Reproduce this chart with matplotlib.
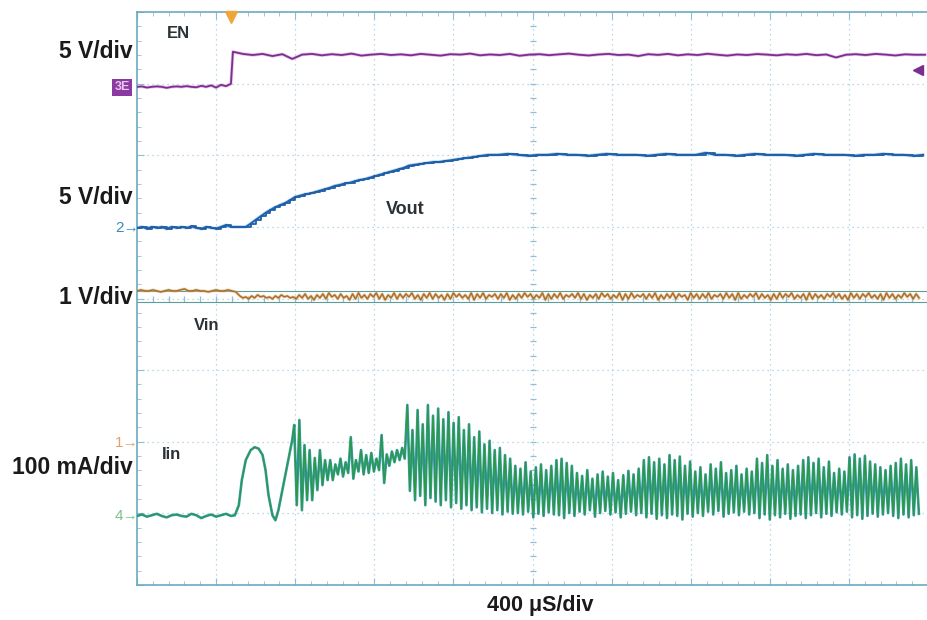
import numpy as np
import matplotlib
matplotlib.use("Agg")
import matplotlib.pyplot as plt

plt.rcParams['font.family'] = ['Liberation Sans', 'DejaVu Sans']

# ---- scope settings ----
t_left, t_right = -475, 3480       # us, trigger at t = 0
us_div = 400                       # 400 us/div
n_xdiv, n_ydiv = 10, 8

# vertical position of each channel (div from bottom) and units per div
en_pos, en_scale = 6.955, 5.0        # V/div
vout_pos, vout_scale = 4.986, 5.0    # V/div
vin_pos, vin_scale = 4.092, 1000.0   # mV/div
iin_pos, iin_scale = 0.964, 100.0    # mA/div

# ---- EN (V) ----
en_low = [0.0, 0.03, -0.05, 0.0, 0.03, 0.0, -0.07, 0.0, 0.03, 0.0,
          0.05, 0.0, -0.03, 0.07, 0.0, 0.1, -0.05, 0.14, 0.05, 0.21]   # every 25 us from t_left
en_high = [2.45, 2.30, 2.22, 2.30, 2.15, 2.28, 1.95, 2.25, 2.30, 2.20,
           2.28, 2.22, 2.32, 2.18, 2.25, 2.30, 2.22, 2.27, 2.20, 2.30,
           2.24, 2.18, 2.28, 2.25, 2.32, 2.20, 2.26, 2.22, 2.30, 2.17,
           2.25, 2.28, 2.21, 2.27, 2.32, 2.24, 2.19, 2.26, 2.30, 2.22,
           2.25, 2.15, 2.28, 2.23, 2.30, 2.20, 2.27, 2.22, 2.31, 2.24,
           2.18, 2.26, 2.22, 2.29, 2.25, 2.20, 2.27, 2.23, 2.30, 2.21,
           2.26, 2.05, 2.24, 2.28, 2.22, 2.30, 2.25, 2.19, 2.27, 2.24, 2.24]  # every 50 us from t=10

# ---- Vout (V) ----
vout_pre = [0.0, 0.07, -0.05, 0.07, 0.0, 0.07, -0.07, 0.07, 0.0, 0.07, 0.0,
            0.1, 0.0, -0.07, 0.07, 0.0, -0.05, 0.07, 0.2, 0.07, 0.07, 0.07]  # every 25 us from t_left
vout_ramp = [0.07, 0.3, 0.56, 0.8, 1.05, 1.26, 1.45, 1.6, 1.74, 1.95,
             2.16, 2.25, 2.35, 2.4, 2.5, 2.6, 2.7, 2.8, 2.93, 3.0,
             3.1, 3.15, 3.25, 3.35, 3.4, 3.5, 3.6, 3.7, 3.8, 3.9,
             4.0, 4.1, 4.2, 4.35, 4.4, 4.45, 4.5, 4.55, 4.6, 4.6,
             4.65, 4.7, 4.75, 4.8, 4.85, 4.9, 4.95, 5.0, 5.05]          # every 25 us from t=75
vout_flat = [5.1, 5.1, 5.17, 5.1, 5.03, 5.1, 5.1, 5.17, 5.1, 5.1,
             5.03, 5.1, 5.17, 5.1, 5.1, 5.1, 5.03, 5.1, 5.17, 5.1,
             5.1, 5.1, 5.24, 5.1, 5.1, 5.03, 5.1, 5.17, 5.1, 5.1,
             5.1, 5.03, 5.1, 5.17, 5.1, 5.1, 5.1, 5.03, 5.1, 5.1,
             5.17, 5.1, 5.1, 5.03, 5.1]                                  # every 50 us from t=1300

# ---- Vin (mV, relative to its marker) ----
vin_pre = [14, 28, 14, 14, 28, 14, 0, 14, 28, 14, 14, 28, 42, 14, 14, 28,
           14, 14, 0, 14, 28, 14, 14, 28, 14, 0]                         # every 20 us from t_left
vin_hi = [-56, -70, -56, -42, -56, -70, -56, -42, -56, -70,
          -42, -28, -56, -42, -28, -14, -42, -28, -56, -28,
          -14, -42, -28, -14, -28, -42, -14, -28, -28, -14,
          -42, -28, -14, -28, -42, -28, -14, -28, -42, -14,
          -28, -14, -42, -28, -28, -14, -42, -28, -14, -28,
          -42, -14, -28, -28, -14, -42, -28, -14, -28, -42,
          -28, -14, -28, -42, -14, -28, -14, -42, -28, -28,
          -14, -42, -28, -14, -28, -42, -14, -28, -28, -14,
          -42, -28, -14, -28, -14, -42, -28, -14, -28, -42,
          -28, -14, -28, -14, -42, -28, -14, -28, -42, -28,
          -14, -28, -42, -14, -28, -28, -14, -42, -28, -14,
          -28, -42, -14, -28, -28]
vin_lo = [-84, -98, -84, -70, -84, -98, -84, -70, -84, -98,
          -84, -98, -112, -84, -98, -70, -98, -84, -112, -98,
          -84, -98, -70, -98, -112, -84, -98, -84, -70, -98,
          -112, -84, -98, -84, -112, -98, -70, -84, -98, -112,
          -84, -98, -70, -98, -84, -112, -98, -84, -70, -98,
          -84, -112, -98, -84, -98, -70, -84, -98, -112, -84,
          -98, -70, -98, -84, -112, -98, -84, -70, -98, -84,
          -112, -98, -84, -98, -70, -112, -84, -98, -84, -98,
          -70, -98, -84, -112, -98, -84, -70, -98, -84, -112,
          -98, -84, -70, -98, -84, -112, -98, -84, -98, -70,
          -84, -98, -112, -84, -98, -70, -84, -98, -112, -84,
          -98, -84, -70, -98, -84]                                       # pairs every 30 us from t=45
vin_ref = [14, -140]

# ---- Iin (mA) ----
iin_pre_t = [-475, -450, -425, -400, -375, -350, -325, -300, -275, -250, -225,
             -200, -175, -150, -125, -100, -75, -50, -25, 0, 20,
             40, 55, 75, 100, 120, 140, 160, 175, 190, 210, 225, 240, 260, 280, 295, 310]
iin_pre = [0, 2, -1, 1, 3, 0, -2, 1, 2, 0, -1, 3, 1, -3, 0, 2, -1, 1, 3, 0, 1,
           15, 50, 78, 92, 96, 94, 85, 64, 29, 1, -6, 8, 36, 64, 85, 106]
# ringing peaks / troughs, one pair every 26 us from t=320
iin_hi = [127, 134, 99, 92, 81, 92, 78,
          78, 72, 80, 75, 110, 78, 92, 85, 88, 80, 113, 86, 90, 92, 95,
          155, 120, 148, 128, 155, 140, 150, 135, 145, 130, 138, 120, 128, 110, 118, 100, 105, 92, 95, 85, 80,
          70, 66, 75, 62, 68, 72, 64, 70,
          78, 80, 74, 70,
          60, 56, 64, 52, 58, 62, 55, 60, 50, 57, 63, 58, 66,
          78, 82, 75, 80, 72, 85, 78, 83, 70, 76,
          62, 68, 58, 72, 66, 75, 60, 64, 70, 58, 66, 62,
          80, 74, 85, 70, 78, 66, 72, 64,
          70, 78, 82, 74, 80, 68, 76, 60, 66, 62,
          82, 86, 80, 84, 76, 72, 68, 64, 70, 74, 80, 72, 78, 68]
iin_lo = [15, 8, 22, 22, 36, 43, 50,
          50, 58, 55, 60, 52, 62, 58, 60, 62, 64, 46, 70, 75, 78, 80,
          35, 22, 28, 15, 25, 20, 15, 22, 12, 18, 10, 15, 8, 12, 5, 10, 4, 8, 2, 6, 3,
          4, 2, 6, -2, 3, 0, 5, 2,
          1, -3, 4, 0,
          6, 2, 8, -1, 4, 7, 2, 5, -2, 3, 6, 1, 4,
          -2, 3, -4, 1, -3, 2, 0, -5, 3, -1,
          4, 0, 6, 2, 7, -1, 3, 5, 1, 6, 2, 4,
          -3, 2, -5, 1, -2, 3, -4, 0,
          2, -3, 1, 4, -2, 3, 0, 5, 2, 6,
          -2, 1, -4, 0, 3, -1, 2, 4, 0, -3, 2, -2, 1, 3]

# ---- build time bases ----
en_t = np.concatenate([t_left + 25 * np.arange(len(en_low)), 10 + 50 * np.arange(len(en_high))])
en_v = np.array(en_low + en_high)

vout_t = np.concatenate([t_left + 25 * np.arange(len(vout_pre)),
                         75 + 25 * np.arange(len(vout_ramp)),
                         1300 + 50 * np.arange(len(vout_flat))])
vout_v = np.array(vout_pre + vout_ramp + vout_flat)

vin_pair_t = np.column_stack([45 + 30 * np.arange(len(vin_hi)), 60 + 30 * np.arange(len(vin_lo))]).ravel()
vin_t = np.concatenate([t_left + 20 * np.arange(len(vin_pre)), vin_pair_t])
vin_v = np.concatenate([vin_pre, np.column_stack([vin_hi, vin_lo]).ravel()])

iin_pair_t = np.column_stack([320 + 26 * np.arange(len(iin_hi)), 333 + 26 * np.arange(len(iin_lo))]).ravel()
iin_t = np.concatenate([iin_pre_t, iin_pair_t])
iin_v = np.concatenate([iin_pre, np.column_stack([iin_hi, iin_lo]).ravel()])

# ---- figure ----
fig = plt.figure(figsize=(9.28, 6.2), dpi=100)
ax = fig.add_axes([137 / 928, 1 - 585 / 620, 1 - 137 / 928, 573 / 620])
ax.set_xlim(t_left, t_right)
ax.set_ylim(0, n_ydiv)

grid_c = '#a6cde0'
for k in range(1, n_xdiv):
    ax.axvline(t_left + k * us_div, color=grid_c, lw=0.9, ls=(0, (1, 3)), zorder=0)
for k in range(1, n_ydiv):
    ax.axhline(k, color=grid_c, lw=0.9, ls=(0, (1, 3)), zorder=0)

# centre cross with fine ticks
tc = t_left + 5 * us_div
mx = t_left + us_div / 5 * np.arange(1, 5 * n_xdiv)
my = np.arange(1, 5 * n_ydiv) / 5
ax.plot(mx, np.full(mx.shape, 4.0), ls='none', marker='|', ms=5, color='#8dbfd6', mew=0.9, zorder=0)
ax.plot(np.full(my.shape, tc), my, ls='none', marker='_', ms=5, color='#8dbfd6', mew=0.9, zorder=0)

for s in ['left', 'top', 'bottom']:
    ax.spines[s].set_color('#6aaac0')
    ax.spines[s].set_linewidth(1.2)
ax.spines['right'].set_visible(False)
ax.set_xticks(t_left + us_div * np.arange(n_xdiv + 1))
ax.set_xticks(mx, minor=True)
ax.set_yticks(np.arange(n_ydiv + 1))
ax.set_yticks(my, minor=True)
ax.tick_params(which='both', direction='in', colors='#8dbfd6', top=True, bottom=True,
               left=True, right=False, labelbottom=False, labelleft=False)
ax.tick_params(which='major', length=5)
ax.tick_params(which='minor', length=3)


def trace(t, y, edge, core, lw=1.3, edge_lw=2.4, edge_alpha=0.55):
    ax.plot(t, y, color=edge, lw=edge_lw, alpha=edge_alpha, zorder=3)
    ax.plot(t, y, color=core, lw=lw, zorder=4)


# Vin reference lines
for r in vin_ref:
    ax.axhline(vin_pos + r / vin_scale, color='#5e9c98', lw=0.8, zorder=2)

trace(en_t, en_pos + en_v / en_scale, '#d694d6', '#7a2f8f')
trace(vout_t, vout_pos + vout_v / vout_scale, '#78b6dc', '#1f5fa8')
ax.step(vout_t, vout_pos + vout_v / vout_scale, where='post', color='#1f5fa8', lw=1.3, zorder=4)
trace(vin_t, vin_pos + vin_v / vin_scale, '#e6b070', '#a8702e', lw=1.1, edge_lw=2.2)
trace(iin_t, iin_pos + iin_v / iin_scale, '#2590a8', '#2a9a40', lw=0.9, edge_lw=1.9, edge_alpha=0.9)

# trigger marker and EN right-end marker
ax.plot([0], [7.93], marker='v', ms=9, color='#f0a53a', clip_on=False, zorder=5)
ax.plot([t_right - 5], [en_pos + 2.4 / en_scale - 0.24], marker='<', ms=7, color='#7a2f8f',
        clip_on=False, zorder=5)

# trace labels on screen
lab = dict(fontsize=12, fontweight='bold', color='#2a3236', ha='center', va='center')
ax.text(-265, 7.70, 'EN', **lab)
ax.text(880, 5.24, 'Vout', fontsize=13, fontweight='bold', color='#2a3236', ha='center', va='center')
ax.text(-125, 3.63, 'Vin', **lab)
ax.text(-300, 1.82, 'Iin', **lab)

# channel markers at left edge
fig.text(122 / 928, 1 - 87 / 620, '3E', fontsize=9, fontweight='bold', color='#ecc6f0',
         ha='center', va='center',
         bbox=dict(boxstyle='square,pad=0.2', fc='#8a3aa0', ec='none'))
fig.text(127 / 928, 1 - 228 / 620, '2\u2192', fontsize=11, color='#3a8ab8', ha='center', va='center')
fig.text(127 / 928, 1 - 443 / 620, '1\u2192', fontsize=11, color='#e0a070', ha='center', va='center')
fig.text(127 / 928, 1 - 516 / 620, '4\u2192', fontsize=11, color='#7cc08a', ha='center', va='center')

# scale labels
side = dict(fontsize=16.5, fontweight='bold', color='#1a1a1a', ha='right', va='center')
fig.text(133 / 928, 1 - 52 / 620, '5 V/div', **side)
fig.text(133 / 928, 1 - 198 / 620, '5 V/div', **side)
fig.text(133 / 928, 1 - 297 / 620, '1 V/div', **side)
fig.text(133 / 928, 1 - 467 / 620, '100 mA/div', **side)
fig.text(540 / 928, 1 - 606 / 620, '400 \u03bcS/div', fontsize=15.5, fontweight='bold',
         color='#1a1a1a', ha='center', va='center')

fig.savefig('out.png', dpi=100)
